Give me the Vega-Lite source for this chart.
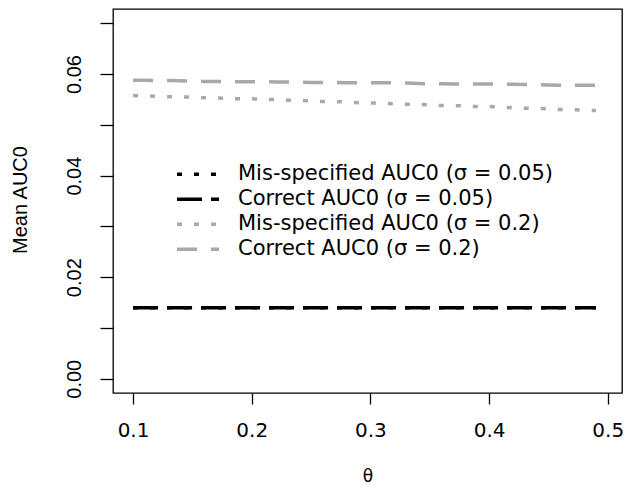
{
  "$schema": "https://vega.github.io/schema/vega-lite/v6.json",
  "width": 509,
  "height": 384,
  "autosize": "none",
  "padding": {"left": 113, "top": 9, "right": 4, "bottom": 93},
  "background": "white",
  "config": {
    "view": {"stroke": "black", "strokeWidth": 1.3},
    "axis": {
      "domain": false,
      "grid": false,
      "tickColor": "black",
      "tickWidth": 1.3,
      "labelColor": "black",
      "titleColor": "black",
      "titleFontWeight": "normal"
    }
  },
  "data": {
    "values": [
      {"theta": 0.10, "m05": 0.014, "c05": 0.014, "m20": 0.05576, "c20": 0.05878},
      {"theta": 0.11, "m05": 0.014, "c05": 0.014, "m20": 0.05570, "c20": 0.05876},
      {"theta": 0.12, "m05": 0.014, "c05": 0.014, "m20": 0.05560, "c20": 0.05873},
      {"theta": 0.13, "m05": 0.014, "c05": 0.014, "m20": 0.05550, "c20": 0.05870},
      {"theta": 0.14, "m05": 0.014, "c05": 0.014, "m20": 0.05550, "c20": 0.05866},
      {"theta": 0.15, "m05": 0.014, "c05": 0.014, "m20": 0.05546, "c20": 0.05860},
      {"theta": 0.16, "m05": 0.014, "c05": 0.014, "m20": 0.05531, "c20": 0.05854},
      {"theta": 0.17, "m05": 0.014, "c05": 0.014, "m20": 0.05531, "c20": 0.05852},
      {"theta": 0.18, "m05": 0.014, "c05": 0.014, "m20": 0.05521, "c20": 0.05850},
      {"theta": 0.19, "m05": 0.014, "c05": 0.014, "m20": 0.05511, "c20": 0.05849},
      {"theta": 0.20, "m05": 0.014, "c05": 0.014, "m20": 0.05511, "c20": 0.05848},
      {"theta": 0.21, "m05": 0.014, "c05": 0.014, "m20": 0.05503, "c20": 0.05846},
      {"theta": 0.22, "m05": 0.014, "c05": 0.014, "m20": 0.05497, "c20": 0.05845},
      {"theta": 0.23, "m05": 0.014, "c05": 0.014, "m20": 0.05483, "c20": 0.05843},
      {"theta": 0.24, "m05": 0.014, "c05": 0.014, "m20": 0.05483, "c20": 0.05840},
      {"theta": 0.25, "m05": 0.014, "c05": 0.014, "m20": 0.05467, "c20": 0.05834},
      {"theta": 0.26, "m05": 0.014, "c05": 0.014, "m20": 0.05458, "c20": 0.05832},
      {"theta": 0.27, "m05": 0.014, "c05": 0.014, "m20": 0.05458, "c20": 0.05831},
      {"theta": 0.28, "m05": 0.014, "c05": 0.014, "m20": 0.05448, "c20": 0.05830},
      {"theta": 0.29, "m05": 0.014, "c05": 0.014, "m20": 0.05432, "c20": 0.05830},
      {"theta": 0.30, "m05": 0.014, "c05": 0.014, "m20": 0.05432, "c20": 0.05829},
      {"theta": 0.31, "m05": 0.014, "c05": 0.014, "m20": 0.05422, "c20": 0.05828},
      {"theta": 0.32, "m05": 0.014, "c05": 0.014, "m20": 0.05412, "c20": 0.05826},
      {"theta": 0.33, "m05": 0.014, "c05": 0.014, "m20": 0.05404, "c20": 0.05822},
      {"theta": 0.34, "m05": 0.014, "c05": 0.014, "m20": 0.05404, "c20": 0.05815},
      {"theta": 0.35, "m05": 0.014, "c05": 0.014, "m20": 0.05391, "c20": 0.05808},
      {"theta": 0.36, "m05": 0.014, "c05": 0.014, "m20": 0.05379, "c20": 0.05806},
      {"theta": 0.37, "m05": 0.014, "c05": 0.014, "m20": 0.05379, "c20": 0.05805},
      {"theta": 0.38, "m05": 0.014, "c05": 0.014, "m20": 0.05369, "c20": 0.05804},
      {"theta": 0.39, "m05": 0.014, "c05": 0.014, "m20": 0.05359, "c20": 0.05803},
      {"theta": 0.40, "m05": 0.014, "c05": 0.014, "m20": 0.05359, "c20": 0.05802},
      {"theta": 0.41, "m05": 0.014, "c05": 0.014, "m20": 0.05347, "c20": 0.05801},
      {"theta": 0.42, "m05": 0.014, "c05": 0.014, "m20": 0.05335, "c20": 0.05799},
      {"theta": 0.43, "m05": 0.014, "c05": 0.014, "m20": 0.05325, "c20": 0.05796},
      {"theta": 0.44, "m05": 0.014, "c05": 0.014, "m20": 0.05325, "c20": 0.05790},
      {"theta": 0.45, "m05": 0.014, "c05": 0.014, "m20": 0.05312, "c20": 0.05783},
      {"theta": 0.46, "m05": 0.014, "c05": 0.014, "m20": 0.05300, "c20": 0.05781},
      {"theta": 0.47, "m05": 0.014, "c05": 0.014, "m20": 0.05300, "c20": 0.05780},
      {"theta": 0.48, "m05": 0.014, "c05": 0.014, "m20": 0.05290, "c20": 0.05780},
      {"theta": 0.49, "m05": 0.014, "c05": 0.014, "m20": 0.05280, "c20": 0.05779}
    ]
  },
  "transform": [
    {"fold": ["m05", "c05", "m20", "c20"], "as": ["series", "auc"]}
  ],
  "mark": {"type": "line", "strokeWidth": 3.5, "strokeCap": "butt"},
  "encoding": {
    "x": {
      "field": "theta",
      "type": "quantitative",
      "scale": {"domain": [0.0831, 0.512], "nice": false, "zero": false},
      "axis": {
        "values": [0.1, 0.2, 0.3, 0.4, 0.5],
        "format": ".1f",
        "tickSize": 11,
        "labelFont": "DejaVu Sans",
        "labelFontSize": 20,
        "labelPadding": 16,
        "labelBaseline": "top",
        "title": "θ",
        "titleFont": "DejaVu Sans",
        "titleFontSize": 17,
        "titleX": 254.5,
        "titleY": 88.5,
        "titleBaseline": "alphabetic",
        "titleAlign": "center"
      }
    },
    "y": {
      "field": "auc",
      "type": "quantitative",
      "scale": {"domain": [-0.0028, 0.0728], "nice": false, "zero": false},
      "axis": {
        "values": [0, 0.01, 0.02, 0.03, 0.04, 0.05, 0.06, 0.07],
        "labelExpr": "round(datum.value * 100) % 2 == 0 ? format(datum.value, '.2f') : ''",
        "tickSize": 13,
        "labelAngle": 270,
        "labelAlign": "center",
        "labelBaseline": "alphabetic",
        "labelPadding": 20,
        "labelFont": "Liberation Sans",
        "labelFontSize": 20,
        "title": "Mean AUC0",
        "titleFont": "Liberation Sans",
        "titleFontSize": 20,
        "titleAngle": 270,
        "titleX": -93,
        "titleY": 190.5,
        "titleAlign": "center",
        "titleBaseline": "middle"
      }
    },
    "color": {
      "field": "series",
      "type": "nominal",
      "scale": {
        "domain": ["m05", "c05", "m20", "c20"],
        "range": ["#000000", "#000000", "#a9a9a9", "#a9a9a9"]
      },
      "legend": {
        "orient": "none",
        "legendX": 62,
        "legendY": 153,
        "title": null,
        "padding": 0,
        "symbolType": "stroke",
        "symbolSize": 1764,
        "symbolStrokeWidth": 3.5,
        "clipHeight": 24.3,
        "rowPadding": 0,
        "labelOffset": 17,
        "labelFont": "DejaVu Sans",
        "labelFontSize": 21,
        "labelColor": "black",
        "labelLimit": 600,
        "labelExpr": "{'m05': 'Mis-specified AUC0 (σ = 0.05)', 'c05': 'Correct AUC0 (σ = 0.05)', 'm20': 'Mis-specified AUC0 (σ = 0.2)', 'c20': 'Correct AUC0 (σ = 0.2)'}[datum.label]"
      }
    },
    "strokeDash": {
      "field": "series",
      "type": "nominal",
      "scale": {
        "domain": ["m05", "c05", "m20", "c20"],
        "range": [[5, 12], [25, 9], [5, 12], [20, 14]]
      },
      "legend": {
        "orient": "none",
        "legendX": 62,
        "legendY": 153,
        "title": null,
        "padding": 0,
        "symbolType": "stroke",
        "symbolSize": 1764,
        "symbolStrokeWidth": 3.5,
        "clipHeight": 24.3,
        "rowPadding": 0,
        "labelOffset": 17,
        "labelFont": "DejaVu Sans",
        "labelFontSize": 21,
        "labelColor": "black",
        "labelLimit": 600,
        "labelExpr": "{'m05': 'Mis-specified AUC0 (σ = 0.05)', 'c05': 'Correct AUC0 (σ = 0.05)', 'm20': 'Mis-specified AUC0 (σ = 0.2)', 'c20': 'Correct AUC0 (σ = 0.2)'}[datum.label]"
      }
    }
  }
}
